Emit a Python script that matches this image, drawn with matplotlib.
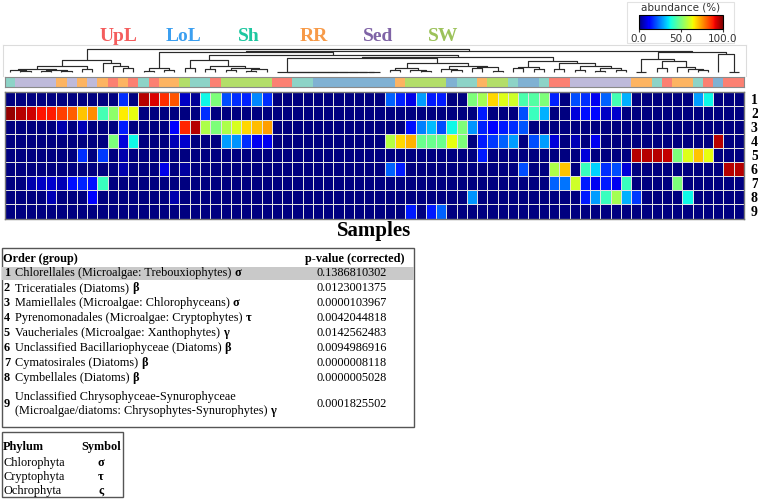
import matplotlib
matplotlib.use("Agg")
import matplotlib.pyplot as plt
import numpy as np
from matplotlib.colors import ListedColormap
from matplotlib.patches import Rectangle
from matplotlib.cm import ScalarMappable
from matplotlib.colors import Normalize

# ---- data ----
groups = ["UpL", "LoL", "Sh", "RR", "Sed", "SW"]
group_label_colors = ["#F45D5D", "#3B9FF0", "#1DC7A0", "#F79A48", "#7F63A6", "#9CC25A"]
group_strip_colors = ["#FB8072", "#80B1D3", "#8DD3C7", "#FDB462", "#BEBADA", "#B3DE69"]

sample_group = [
    "Sh", "Sed", "Sed", "Sed", "Sed", "RR", "Sed", "RR", "Sed", "RR", "UpL", "RR",
    "UpL", "Sh", "UpL", "RR", "RR", "SW", "Sh", "Sh", "UpL", "SW", "SW", "SW",
    "SW", "SW", "UpL", "UpL", "Sh", "Sh", "LoL", "LoL", "LoL", "LoL", "LoL", "LoL",
    "LoL", "LoL", "RR", "SW", "SW", "SW", "SW", "LoL", "Sh", "Sh", "RR", "SW",
    "SW", "Sh", "LoL", "LoL", "Sh", "UpL", "UpL", "Sed", "Sed", "Sed", "Sed", "Sed",
    "Sed", "RR", "RR", "Sh", "UpL", "RR", "RR", "Sh", "UpL", "LoL", "UpL", "UpL",
]

# abundance (%) per order (rows 1-9) and sample (72 columns)
row1 = [0, 0, 0, 0, 0, 0, 0, 0, 0, 0, 0, 17,
        0, 95, 92, 86, 82, 6, 2, 37, 50, 20, 17, 16,
        26, 17, 0, 0, 0, 0, 0, 0, 0, 0, 0, 0,
        0, 22, 16, 9, 28, 15, 15, 0, 0, 50, 55, 68,
        62, 60, 44, 45, 50, 16, 0, 20, 17, 10, 22, 43,
        30, 0, 0, 0, 0, 0, 0, 28, 37, 0, 0, 0]
row2 = [98, 95, 93, 89, 88, 84, 81, 70, 76, 43, 52, 66,
        63, 0, 0, 0, 0, 0, 0, 17, 0, 0, 0, 0,
        0, 0, 0, 0, 0, 0, 0, 0, 0, 0, 0, 0,
        0, 0, 0, 0, 0, 0, 0, 0, 0, 0, 15, 0,
        0, 0, 20, 42, 30, 0, 0, 8, 14, 13, 6, 7,
        0, 0, 0, 0, 0, 0, 0, 0, 0, 0, 0, 0]
row3 = [0, 0, 0, 0, 0, 4, 0, 5, 0, 0, 0, 15,
        0, 0, 0, 0, 11, 87, 95, 56, 50, 56, 61, 68,
        71, 74, 0, 0, 0, 0, 0, 0, 0, 0, 0, 0,
        0, 0, 0, 14, 25, 31, 20, 37, 50, 27, 16, 12,
        15, 17, 21, 0, 0, 0, 0, 0, 0, 0, 0, 0,
        0, 0, 0, 0, 0, 0, 0, 0, 0, 0, 0, 0]
row4 = [0, 0, 0, 0, 0, 0, 0, 0, 0, 0, 50, 8,
        37, 0, 0, 0, 5, 7, 0, 0, 0, 28, 27, 17,
        10, 10, 0, 0, 0, 0, 0, 0, 0, 0, 0, 0,
        0, 57, 68, 72, 48, 48, 48, 63, 50, 0, 15, 18,
        22, 28, 0, 20, 28, 8, 0, 5, 0, 10, 0, 0,
        0, 0, 0, 0, 0, 0, 0, 0, 0, 95, 0, 0]
row5 = [0, 0, 0, 0, 0, 0, 0, 17, 0, 18, 0, 4,
        0, 0, 0, 0, 0, 0, 0, 0, 0, 0, 0, 0,
        0, 0, 0, 0, 0, 0, 0, 0, 0, 0, 0, 0,
        0, 0, 0, 0, 0, 0, 0, 0, 0, 0, 15, 0,
        0, 0, 0, 0, 0, 0, 0, 0, 8, 0, 0, 0,
        0, 95, 95, 95, 94, 50, 62, 70, 63, 0, 0, 0]
row6 = [0, 0, 0, 0, 0, 0, 0, 0, 0, 0, 0, 4,
        0, 0, 0, 9, 0, 3, 0, 0, 0, 0, 0, 0,
        0, 0, 0, 0, 0, 0, 0, 0, 0, 0, 0, 0,
        0, 22, 15, 0, 0, 0, 0, 0, 0, 0, 0, 0,
        0, 0, 20, 0, 0, 56, 70, 0, 42, 33, 17, 20,
        8, 0, 0, 0, 0, 0, 0, 0, 0, 0, 95, 95]
row7 = [0, 0, 4, 6, 7, 5, 14, 16, 14, 42, 0, 0,
        0, 0, 0, 0, 0, 0, 0, 0, 0, 0, 0, 0,
        0, 0, 0, 0, 0, 0, 0, 0, 0, 0, 0, 0,
        0, 0, 0, 0, 0, 0, 0, 0, 0, 0, 0, 0,
        0, 0, 0, 0, 0, 22, 24, 60, 15, 10, 15, 10,
        42, 0, 0, 0, 0, 50, 0, 0, 0, 0, 0, 0]
row8 = [0, 0, 0, 0, 5, 0, 0, 0, 12, 0, 0, 0,
        0, 0, 0, 0, 4, 0, 0, 0, 0, 0, 0, 0,
        0, 0, 0, 0, 0, 0, 0, 0, 0, 0, 0, 0,
        0, 0, 0, 0, 0, 0, 0, 0, 0, 27, 0, 0,
        0, 0, 0, 0, 0, 0, 0, 0, 15, 28, 42, 55,
        30, 18, 0, 0, 0, 0, 37, 0, 0, 0, 0, 0]
row9 = [0, 0, 0, 0, 0, 0, 0, 0, 0, 0, 0, 0,
        0, 0, 0, 0, 0, 0, 0, 0, 0, 0, 0, 0,
        0, 0, 0, 0, 0, 0, 0, 0, 0, 0, 0, 0,
        0, 0, 0, 15, 0, 15, 22, 0, 0, 0, 0, 0,
        0, 0, 0, 0, 0, 0, 0, 0, 0, 0, 0, 0,
        0, 0, 0, 0, 0, 0, 0, 0, 0, 0, 0, 0]
row_labels = ["1", "2", "3", "4", "5", "6", "7", "8", "9"]

# sample clustering: (left, right, height) with leaves = column index
zero_block = (26, (27, (28, (29, (30, (31, (32, (33, (34, (35, 36, 0.2), 0.2), 0.2),
              0.2), 0.2), 0.2), 0.2), 0.2), 0.2), 0.2)
clust_A = (((0, (1, 2, 1.3), 2.0), ((3, 4, 1.5), (5, 6, 0.7), 2.2), 3.0), (7, 8, 3.0), 6.0)
clust_A = (clust_A, (9, (10, (11, 12, 3.7), 6.0), 8.7), 12.0)
clust_B1a = ((13, 14, 1.0), (15, 16, 2.0), 4.3)
clust_C1 = ((17, 18, 4.0), ((19, 20, 3.0), ((21, 22, 2.0), ((23, 24, 1.5), 25, 3.0), 4.5), 6.0), 12.0)
clust_C4 = (((37, 38, 2.5), (39, (40, 41, 1.5), 2.0), 4.0),
            ((42, (43, 44, 2.0), 3.0), ((45, 46, 4.0), (47, 48, 1.5), 5.0), 6.5), 8.7)
clust_C5 = (((49, 50, 4.0), (51, 52, 3.5), 5.5),
            ((53, 54, 3.5), ((55, 56, 2.0), ((57, 58, 1.5), (59, 60, 2.5), 4.5), 6.0), 9.0), 11.0)
clust_B2 = (((61, 62, 0.3), ((63, 64, 4.0), (65, (66, (67, 68, 2.0), 3.0), 5.0), 11.0), 12.7),
            (69, (70, 71, 0.3), 18.0), 20.0)
clust_B1 = (clust_B1a, (clust_C1, ((zero_block, clust_C4, 13.7), clust_C5, 15.5), 17.0), 19.7)
tree = (clust_A, (clust_B1, clust_B2, 21.3), 23.0)

orders = ["Chlorellales (Microalgae: Trebouxiophytes)",
          "Triceratiales (Diatoms)",
          "Mamiellales (Microalgae: Chlorophyceans)",
          "Pyrenomonadales (Microalgae: Cryptophytes)",
          "Vaucheriales (Microalgae: Xanthophytes)",
          "Unclassified Bacillariophyceae (Diatoms)",
          "Cymatosirales (Diatoms)",
          "Cymbellales (Diatoms)",
          "Unclassified Chrysophyceae-Synurophyceae\n(Microalgae/diatoms: Chrysophytes-Synurophytes)"]
order_symbols = ["σ", "β", "σ", "τ", "γ", "β", "β", "β", "γ"]
pvalues = ["0.1386810302", "0.0123001375", "0.0000103967", "0.0042044818", "0.0142562483",
           "0.0094986916", "0.0000008118", "0.0000005028", "0.0001825502"]
phyla = ["Chlorophyta", "Cryptophyta", "Ochrophyta"]
phylum_symbols = ["σ", "τ", "ς"]

# ---- layout (pixels) ----
W, H = 758, 499
SERIF = "Liberation Serif"
FS = 8.8
fig = plt.figure(figsize=(W / 100, H / 100), dpi=100)


def px_axes(x0, y0, x1, y1):
    return fig.add_axes([x0 / W, 1 - y1 / H, (x1 - x0) / W, (y1 - y0) / H])


ncol = len(sample_group)
heat = np.array([row1, row2, row3, row4, row5, row6, row7, row8, row9], dtype=float)

# heatmap
ax = px_axes(5, 92, 744, 218.5)
ax.pcolormesh(heat, cmap="jet", vmin=0, vmax=100, edgecolors="#e2e2e2", linewidth=0.5)
ax.set_xlim(0, ncol)
ax.set_ylim(len(row_labels), 0)
ax.set_xticks([])
ax.yaxis.tick_right()
ax.set_yticks(np.arange(len(row_labels)) + 0.5)
ax.set_yticklabels(row_labels, fontfamily=SERIF, fontweight="bold", fontsize=10)
ax.tick_params(axis="y", length=0, pad=5)
for s in ax.spines.values():
    s.set_color("#777777")
    s.set_linewidth(1.0)
ax.set_xlabel("Samples", fontfamily=SERIF, fontweight="bold", fontsize=15, labelpad=2)

# group strip
ax_s = px_axes(5, 77.3, 744, 87.3)
gidx = np.array([[groups.index(g) for g in sample_group]])
ax_s.pcolormesh(gidx, cmap=ListedColormap(group_strip_colors), vmin=-0.5, vmax=len(groups) - 0.5)
ax_s.set_xlim(0, ncol)
ax_s.set_xticks([])
ax_s.set_yticks([])
for s in ax_s.spines.values():
    s.set_color("#8a8a8a")
    s.set_linewidth(0.8)

# dendrogram
ax_d = px_axes(3, 45, 746, 76)
unit = 739 / ncol
ax_d.set_xlim(-2 / unit, ncol + 2 / unit)
ax_d.set_ylim(-4, 27)


def draw(node):
    if isinstance(node, int):
        return node + 0.5, 0.0
    left, right, h = node
    xl, hl = draw(left)
    xr, hr = draw(right)
    ax_d.plot([xl, xl, xr, xr], [hl, h, h, hr], color="#2a2a2a", lw=0.85, solid_capstyle="butt")
    return (xl + xr) / 2, h


draw(tree)
ax_d.set_xticks([])
ax_d.set_yticks([])
for k, s in ax_d.spines.items():
    s.set_color("#dcdcdc")
    s.set_linewidth(0.8)
ax_d.spines["bottom"].set_visible(False)

# overlay for labels and tables
ov = fig.add_axes([0, 0, 1, 1], zorder=-1)
ov.set_xlim(0, W)
ov.set_ylim(H, 0)
ov.axis("off")

for i, g in enumerate(groups):
    ov.text(119 + 64.8 * i, 36.5, g, color=group_label_colors[i], fontfamily=SERIF,
            fontweight="bold", fontsize=14, ha="center", va="center")

# colorbar
ov.add_patch(Rectangle((627, 2), 107, 41, facecolor="none", edgecolor="#e2e2e2", lw=0.8))
ax_cb = px_axes(639, 15, 723, 29)
cb = fig.colorbar(ScalarMappable(norm=Normalize(0, 100), cmap="jet"), cax=ax_cb,
                  orientation="horizontal", ticks=[0, 50, 100], format="%.1f")
cb.outline.set_linewidth(0.8)
ax_cb.tick_params(labelsize=7.5, length=2, pad=1.5, colors="#333333")
ov.text(681, 7.5, "abundance (%)", fontsize=7.5, ha="center", va="center", color="#333333")

# order table
ov.add_patch(Rectangle((2, 248), 412, 179, facecolor="none", edgecolor="#555555", lw=1))
ov.add_patch(Rectangle((2, 266.5), 412, 13, facecolor="#c9c9c9", edgecolor="none"))
ov.text(3, 259, "Order (group)", fontfamily=SERIF, fontweight="bold", fontsize=FS, va="center")
ov.text(355, 259, "p-value (corrected)", fontfamily=SERIF, fontweight="bold", fontsize=FS,
        va="center", ha="center")

row_y = [273, 288, 303, 318, 333, 348, 363, 378, 404]
name_texts = []
for i, name in enumerate(orders):
    y = row_y[i]
    ov.text(4, y, row_labels[i], fontfamily=SERIF, fontweight="bold", fontsize=FS, va="center")
    ov.text(352, y, pvalues[i], fontfamily=SERIF, fontsize=FS, va="center", ha="center")
    lines = name.split("\n")
    if len(lines) == 1:
        t = ov.text(15, y, lines[0], fontfamily=SERIF, fontsize=FS, va="center")
    else:
        ov.text(15, y - 7, lines[0], fontfamily=SERIF, fontsize=FS, va="center")
        t = ov.text(15, y + 7, lines[1], fontfamily=SERIF, fontsize=FS, va="center")
    name_texts.append(t)

# phylum table
ov.add_patch(Rectangle((2, 432), 121, 65, facecolor="none", edgecolor="#555555", lw=1))
ov.text(3, 447, "Phylum", fontfamily=SERIF, fontweight="bold", fontsize=FS, va="center")
ov.text(101, 447, "Symbol", fontfamily=SERIF, fontweight="bold", fontsize=FS, va="center", ha="center")
for i, p in enumerate(phyla):
    y = 463 + 14 * i
    ov.text(3, y, p, fontfamily=SERIF, fontsize=FS, va="center")
    ov.text(101, y, phylum_symbols[i], fontfamily=SERIF, fontweight="bold", fontsize=FS,
            va="center", ha="center")

# bold group symbol right after each order name
fig.canvas.draw()
renderer = fig.canvas.get_renderer()
inv = ov.transData.inverted()
for t, sym in zip(name_texts, order_symbols):
    bb = t.get_window_extent(renderer)
    x_end = inv.transform((bb.x1, bb.y0))[0]
    ov.text(x_end + 3, t.get_position()[1], sym, fontfamily=SERIF, fontweight="bold",
            fontsize=FS, va="center")

fig.savefig("out.png", dpi=100)
